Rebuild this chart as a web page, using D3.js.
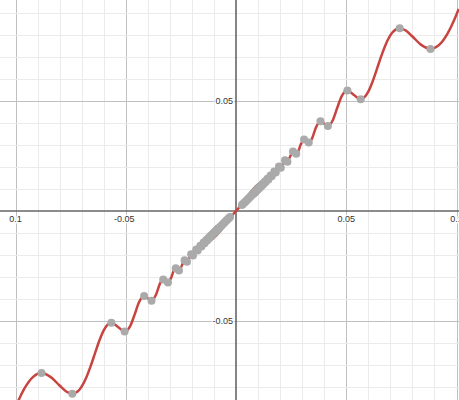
<!DOCTYPE html>
<html>
<head>
<meta charset="utf-8">
<script src="https://cdn.jsdelivr.net/npm/d3@7"></script>
<style>
  body { margin: 0; background: #fff; }
  svg { display: block; }
</style>
</head>
<body>
<div id="container"></div>
<script>
// curve samples (x, y in graph units)
const curveX = [
  -0.107, -0.104, -0.101, -0.099, -0.096, -0.092, -0.0882, -0.084, -0.080, -0.077, -0.07423,
  -0.071, -0.068, -0.066, -0.064, -0.062, -0.060, -0.05654, -0.0535, -0.05051,
  -0.048, -0.046, -0.044, -0.04167, -0.040, -0.03831, -0.0362, -0.0345, -0.0330,
  -0.0319, -0.030862, -0.0293, -0.028, -0.027325, -0.0266, -0.025843, -0.0246,
  -0.023317, -0.02223, -0.0213, -0.020335, -0.019503, -0.018029, -0.017373,
  -0.016194, -0.015662, -0.014698, -0.014259, -0.013455, -0.013086,
  0,
  0.013086, 0.013455, 0.014259, 0.014698, 0.015662, 0.016194, 0.017373, 0.018029,
  0.019503, 0.020335, 0.0213, 0.02223, 0.023317, 0.0246, 0.025843, 0.0266, 0.027325,
  0.028, 0.0293, 0.030862, 0.0319, 0.0330, 0.0345, 0.0362, 0.03831, 0.040, 0.04167,
  0.044, 0.046, 0.048, 0.05051, 0.0535, 0.05654, 0.060, 0.062, 0.064, 0.066, 0.068,
  0.071, 0.07423, 0.077, 0.080, 0.084, 0.0882, 0.092, 0.096, 0.099, 0.101
];
const curveY = [
  -0.1088, -0.0999, -0.09165, -0.08673, -0.08057, -0.0752, -0.0735, -0.07533, -0.07915, -0.08184, -0.0829,
  -0.08107, -0.07579, -0.07059, -0.06468, -0.05886, -0.05411, -0.05067, -0.0526, -0.05466,
  -0.05222, -0.04705, -0.0414, -0.03853, -0.03958, -0.04073, -0.03779, -0.03295, -0.03105,
  -0.03176, -0.03245, -0.03001, -0.02656, -0.02599, -0.02645, -0.02696, -0.02483,
  -0.02235, -0.02306, -0.02146, -0.0196, -0.02015, -0.01745, -0.01789,
  -0.01573, -0.01608, -0.01432, -0.01461, -0.01314, -0.01338,
  0,
  0.01338, 0.01314, 0.01461, 0.01432, 0.01608, 0.01573, 0.01789, 0.01745,
  0.02015, 0.0196, 0.02146, 0.02306, 0.02235, 0.02483, 0.02696, 0.02645, 0.02599,
  0.02656, 0.03001, 0.03245, 0.03176, 0.03105, 0.03295, 0.03779, 0.04073, 0.03958, 0.03853,
  0.0414, 0.04705, 0.05222, 0.05466, 0.0526, 0.05067, 0.05411, 0.05886, 0.06468, 0.07059, 0.07579,
  0.08107, 0.0829, 0.08184, 0.07915, 0.07533, 0.0735, 0.0752, 0.08057, 0.08673, 0.09165
];

// gray points (turning points), right half; left half listed too
const dotXRight = [
  0.0027, 0.0032, 0.0037, 0.0042, 0.0047, 0.0052, 0.0057, 0.0062, 0.0067, 0.0072, 0.0077,
  0.007894, 0.008026, 0.008306, 0.008452, 0.008763, 0.008926, 0.009274, 0.009457,
  0.009847, 0.010054, 0.010497, 0.010732, 0.011238, 0.011509, 0.012092, 0.012405,
  0.013086, 0.013455, 0.014259, 0.014698, 0.015662, 0.016194, 0.017373, 0.018029,
  0.019503, 0.020335, 0.02223, 0.023317, 0.025843, 0.027325, 0.030862, 0.0330,
  0.03831, 0.04167, 0.05051, 0.05654, 0.07423, 0.0882
];
const dotYRight = [
  0.0027, 0.0032, 0.0037, 0.0042, 0.0047, 0.0052, 0.0057, 0.0062, 0.0067, 0.0072, 0.0077,
  0.008, 0.007913, 0.008424, 0.008326, 0.008894, 0.008786, 0.009421, 0.0093,
  0.010012, 0.009876, 0.010685, 0.01053, 0.011453, 0.011276, 0.012341, 0.012135,
  0.01338, 0.01314, 0.01461, 0.01432, 0.01608, 0.01573, 0.01789, 0.01745,
  0.02015, 0.0196, 0.02306, 0.02235, 0.02696, 0.02599, 0.03245, 0.03105,
  0.04073, 0.03853, 0.05466, 0.05067, 0.0829, 0.0735
];
const dotXLeft = [
  -0.0027, -0.0032, -0.0037, -0.0042, -0.0047, -0.0052, -0.0057, -0.0062, -0.0067, -0.0072, -0.0077,
  -0.007894, -0.008026, -0.008306, -0.008452, -0.008763, -0.008926, -0.009274, -0.009457,
  -0.009847, -0.010054, -0.010497, -0.010732, -0.011238, -0.011509, -0.012092, -0.012405,
  -0.013086, -0.013455, -0.014259, -0.014698, -0.015662, -0.016194, -0.017373, -0.018029,
  -0.019503, -0.020335, -0.02223, -0.023317, -0.025843, -0.027325, -0.030862, -0.0330,
  -0.03831, -0.04167, -0.05051, -0.05654, -0.07423, -0.0882
];
const dotYLeft = [
  -0.0027, -0.0032, -0.0037, -0.0042, -0.0047, -0.0052, -0.0057, -0.0062, -0.0067, -0.0072, -0.0077,
  -0.008, -0.007913, -0.008424, -0.008326, -0.008894, -0.008786, -0.009421, -0.0093,
  -0.010012, -0.009876, -0.010685, -0.01053, -0.011453, -0.011276, -0.012341, -0.012135,
  -0.01338, -0.01314, -0.01461, -0.01432, -0.01608, -0.01573, -0.01789, -0.01745,
  -0.02015, -0.0196, -0.02306, -0.02235, -0.02696, -0.02599, -0.03245, -0.03105,
  -0.04073, -0.03853, -0.05466, -0.05067, -0.0829, -0.0735
];

// axis labels as they appear in the picture
const xTickValues = [-0.1, -0.05, 0.05, 0.1];
const xTickLabels = ["0.1", "-0.05", "0.05", "0.1"];
const yTickValues = [0.05, -0.05];
const yTickLabels = ["0.05", "-0.05"];

const width = 459, height = 400;

const svg = d3.select("#container")
  .append("svg")
    .attr("width", width)
    .attr("height", height);

// same pixels per unit on both axes
const x = d3.scaleLinear().domain([-0.1, 0.1]).range([15.5, 456.5]);
const y = d3.scaleLinear().domain([-0.05, 0.05]).range([321.25, 100.75]);

const xMin = x.invert(0), xMax = x.invert(width);
const yMin = y.invert(height), yMax = y.invert(0);

// grid: minor lines every 0.01, major every 0.05
const isMajor = v => Math.abs(Math.round(v * 100) % 5) === 0;
const xGrid = d3.range(Math.ceil(xMin * 100), Math.floor(xMax * 100) + 1).map(i => i / 100);
const yGrid = d3.range(Math.ceil(yMin * 100), Math.floor(yMax * 100) + 1).map(i => i / 100);

const grid = svg.append("g").attr("shape-rendering", "crispEdges");
grid.selectAll(".vx")
  .data(xGrid.filter(v => Math.abs(v) > 1e-9))
  .join("line")
    .attr("x1", d => Math.round(x(d)) + 0.5).attr("x2", d => Math.round(x(d)) + 0.5)
    .attr("y1", 0).attr("y2", height)
    .attr("stroke", d => isMajor(d) ? "#c0c0c0" : "#ebebeb");
grid.selectAll(".hy")
  .data(yGrid.filter(v => Math.abs(v) > 1e-9))
  .join("line")
    .attr("y1", d => Math.round(y(d)) + 0.5).attr("y2", d => Math.round(y(d)) + 0.5)
    .attr("x1", 0).attr("x2", width)
    .attr("stroke", d => isMajor(d) ? "#c0c0c0" : "#ebebeb");

// axes
svg.append("line")
  .attr("x1", 0).attr("x2", width)
  .attr("y1", y(0)).attr("y2", y(0))
  .attr("stroke", "#666").attr("stroke-width", 1.6);
svg.append("line")
  .attr("x1", x(0)).attr("x2", x(0))
  .attr("y1", 0).attr("y2", height)
  .attr("stroke", "#666").attr("stroke-width", 1.6);

// tick labels (minus sign hangs to the left of the number)
const labelFont = "'Liberation Sans', Arial, sans-serif";
svg.selectAll(".xl")
  .data(xTickValues)
  .join("text")
    .attr("x", (d, i) => x(d) - (xTickLabels[i].startsWith("-") ? 1.5 : 0))
    .attr("y", y(0) + 10.5)
    .attr("text-anchor", "middle")
    .attr("font-family", labelFont)
    .attr("font-size", 9)
    .attr("fill", "#333")
    .attr("stroke", "#fff").attr("stroke-width", 2.5).attr("paint-order", "stroke")
    .text((d, i) => xTickLabels[i]);

svg.selectAll(".yl")
  .data(yTickValues)
  .join("text")
    .attr("x", x(0) - 3)
    .attr("y", d => y(d))
    .attr("dy", "0.35em")
    .attr("text-anchor", "end")
    .attr("font-family", labelFont)
    .attr("font-size", 9)
    .attr("fill", "#333")
    .attr("stroke", "#fff").attr("stroke-width", 2.5).attr("paint-order", "stroke")
    .text((d, i) => yTickLabels[i]);

// the curve
const line = d3.line()
  .x(d => x(d[0]))
  .y(d => y(d[1]))
  .curve(d3.curveMonotoneX);

svg.append("path")
  .datum(curveX.map((v, i) => [v, curveY[i]]))
  .attr("d", line)
  .attr("fill", "none")
  .attr("stroke", "#c74440")
  .attr("stroke-width", 2.5)
  .attr("stroke-linejoin", "round");

// gray points
const dots = dotXLeft.map((v, i) => [v, dotYLeft[i]])
  .concat(dotXRight.map((v, i) => [v, dotYRight[i]]));

svg.append("g")
  .selectAll("circle")
  .data(dots)
  .join("circle")
    .attr("cx", d => x(d[0]))
    .attr("cy", d => y(d[1]))
    .attr("r", 4)
    .attr("fill", "#aaaaaa");
</script>
</body>
</html>
